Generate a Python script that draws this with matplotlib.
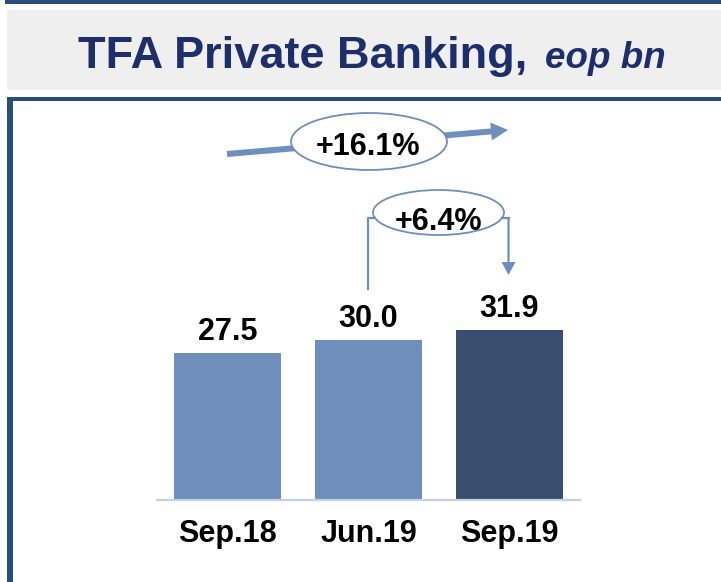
import matplotlib
matplotlib.use("Agg")
import matplotlib.pyplot as plt
from matplotlib.patches import Rectangle, Ellipse

plt.rcParams['font.family'] = ['Liberation Sans', 'DejaVu Sans']

# TFA private banking, end-of-period balances (bn)
periods = ["Sep.18", "Jun.19", "Sep.19"]
balances = [27.5, 30.0, 31.9]
growth_yoy = "+16.1%"
growth_qoq = "+6.4%"

light_blue = "#6e8ebb"
dark_blue = "#3a4e6f"
frame_blue = "#2b4c7e"
title_blue = "#1c2f6b"
arrow_blue = "#6e8fbe"

W, H = 721, 582
fig = plt.figure(figsize=(W / 100, H / 100), dpi=100)

# background layer in pixel units (y grows downwards)
bg = fig.add_axes([0, 0, 1, 1])
bg.set_xlim(0, W)
bg.set_ylim(H, 0)
bg.axis("off")

bg.add_patch(Rectangle((5, 0), W - 5, 3.5, color=frame_blue, lw=0))
bg.add_patch(Rectangle((7, 10), W - 7, 80, color="#efefef", lw=0))
bg.add_patch(Rectangle((7, 97), W - 7, 4, color=frame_blue, lw=0))
bg.add_patch(Rectangle((7, 97), 6, H - 97, color=frame_blue, lw=0))

fig.text(78 / W, 1 - 68 / H, "TFA Private Banking,", fontsize=32.5,
         fontweight="bold", color=title_blue, ha="left", va="baseline")
fig.text(545 / W, 1 - 68 / H, "eop bn", fontsize=26.5, fontweight="bold",
         fontstyle="italic", color=title_blue, ha="left", va="baseline")

# year-on-year growth arrow
bg.arrow(227, 154, 508 - 227, 130 - 154, width=6, head_width=18,
         head_length=17, length_includes_head=True, color=arrow_blue, lw=0)
bg.add_patch(Ellipse((369, 141.5), 156, 57, facecolor="white",
                     edgecolor=arrow_blue, lw=1.3))
bg.text(368, 155, growth_yoy, fontsize=22, fontweight="bold",
        ha="center", va="baseline")

# quarter-on-quarter bracket
bg.plot([368, 368, 376], [290, 218, 218], color=arrow_blue, lw=1.6,
        solid_capstyle="butt")
bg.plot([502, 508.5], [218, 218], color=arrow_blue, lw=1.6)
bg.arrow(508.5, 217.5, 0, 275 - 217.5, width=2.2, head_width=14,
         head_length=13, length_includes_head=True, color=arrow_blue, lw=0)
bg.add_patch(Ellipse((438.5, 212.5), 131, 45, facecolor="white",
                     edgecolor=arrow_blue, lw=1.3))
bg.text(439, 230, growth_qoq, fontsize=22, fontweight="bold",
        ha="center", va="baseline")

# bar chart
ax = fig.add_axes([157 / W, (H - 500) / H, 423 / W, 400 / H])
ax.patch.set_alpha(0)
x = range(len(periods))
colors = [light_blue, light_blue, dark_blue]
bars = ax.bar(x, balances, width=0.76, color=colors)
ax.set_xlim(-0.5, 2.5)
ax.set_ylim(0, 400 / 5.335)

for rect, v in zip(bars, balances):
    ax.annotate(f"{v:.1f}", (rect.get_x() + rect.get_width() / 2, v),
                xytext=(0, 9.5), textcoords="offset points",
                ha="center", va="baseline", fontsize=22, fontweight="bold")

ax.set_xticks(list(x))
ax.set_xticklabels(periods, fontsize=22, fontweight="bold")
ax.tick_params(axis="x", length=0, pad=14)
ax.set_yticks([])
for side in ["top", "right", "left"]:
    ax.spines[side].set_visible(False)
ax.spines["bottom"].set_color("#c5d0e3")
ax.spines["bottom"].set_linewidth(1.6)

fig.savefig("out.png", dpi=100)
